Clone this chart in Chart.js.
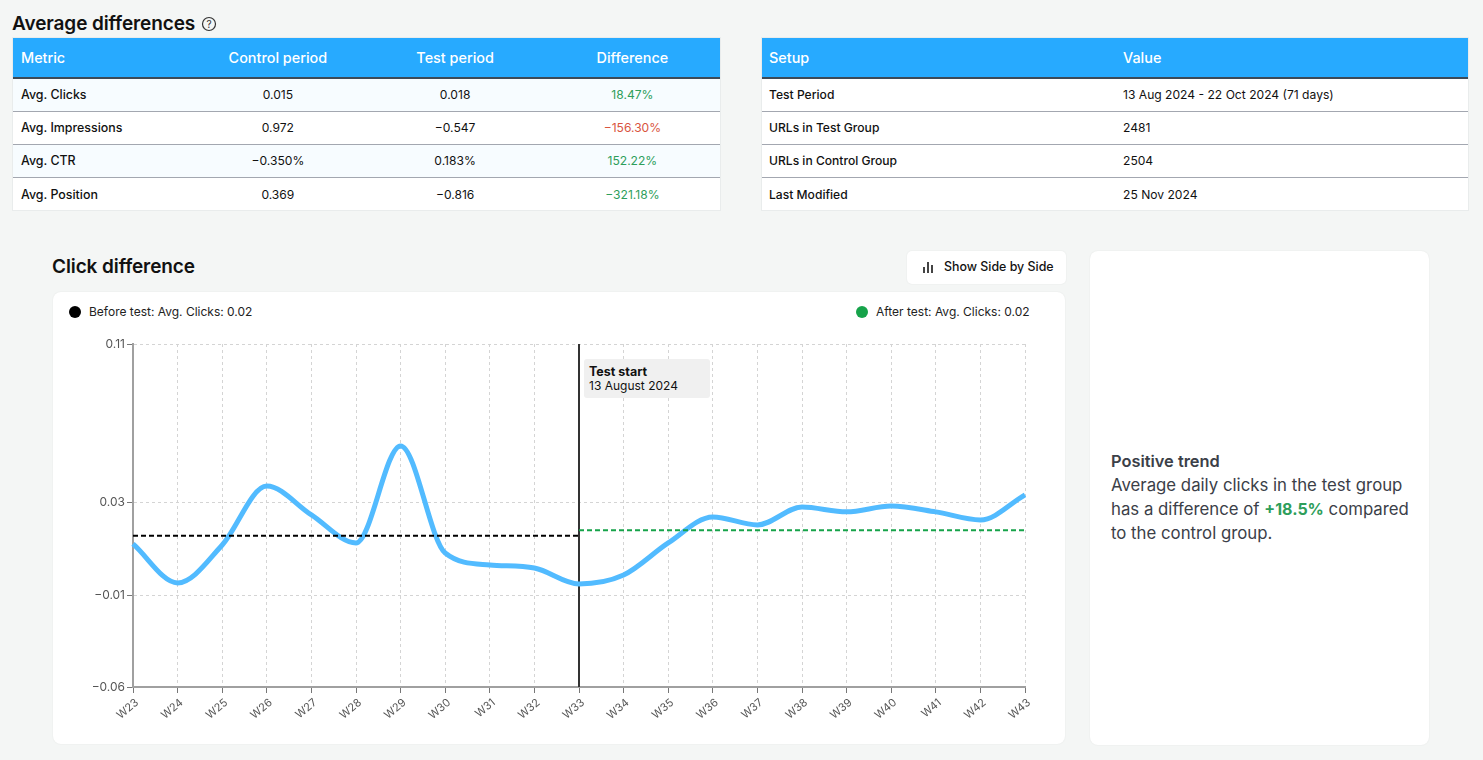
<!DOCTYPE html>
<html>
<head>
<meta charset="utf-8">
<script src="https://cdn.jsdelivr.net/npm/chart.js@4"></script>
<style>
  html, body { margin: 0; padding: 0; background: #f4f6f5; overflow: hidden; }
  body { width: 1483px; height: 760px; position: relative; font-family: Inter, "Noto Sans", sans-serif; color: #111; }
  .abs { position: absolute; white-space: nowrap; }
  .title { font-size: 19px; font-weight: 600; line-height: 24px; letter-spacing: -0.1px; }
  table { position: absolute; top: 37px; border-collapse: collapse; table-layout: fixed; background: #fff; font-size: 12.1px; outline: 1px solid #e9ecec; outline-offset: -1px; }
  th { height: 40px; background: #27aaff; color: #fff; font-size: 14.4px; font-weight: 500; border-bottom: 2px solid #3c4a58; padding: 0; }
  td { height: 31px; padding: 0 0 1px 0; border-bottom: 1px solid #a3a7b0; font-weight: 400; }
  tr:last-child td { border-bottom: none; height: 32px; }
  .m th, .m td { text-align: center; }
  .m th:first-child, .m td:first-child { text-align: left; padding-left: 9px; font-weight: 500; font-size: 12.4px; }
  .m th:first-child { font-size: 14.4px; }
  .m tbody tr:nth-child(odd) td { background: #f7fcff; }
  .s th, .s td { text-align: left; padding-left: 8px; }
  .s td:first-child { font-weight: 500; }
  .up { color: #2e9e5b; }
  .down { color: #d9553f; }
  .card { position: absolute; background: #fff; border-radius: 8px; box-shadow: 0 0 2px rgba(0,0,0,0.07); }
  .dot { position: absolute; width: 12px; height: 12px; border-radius: 50%; }
  .legend { font-size: 12px; line-height: 16px; color: #222; }
  #chartWrap { position: absolute; left: 53px; top: 330px; width: 1012px; height: 410px; }
  #tag { left: 584px; top: 359px; width: 121px; height: 39px; padding-left: 5px; background: #f0f0f0; border-radius: 3px; font-size: 12px; line-height: 14px; }
  #tag b { display: block; margin-top: 6px; font-size: 12.5px; font-weight: 700; }
  #note { left: 1111px; top: 449px; font-size: 16.8px; line-height: 24px; color: #3b4048; }
  #note b { font-size: 16.4px; font-weight: 600; }
  #note .pct { color: #2e9e5b; font-size: 16px; font-weight: 700; }
</style>
</head>
<body>
  <div class="abs title" style="left:12px;top:12px">Average differences</div>
  <svg class="abs" style="left:201px;top:16px" width="16" height="16" viewBox="0 0 16 16">
    <circle cx="8" cy="8" r="6.5" fill="none" stroke="#333" stroke-width="1.2"/>
    <text x="8" y="11.5" font-size="10" text-anchor="middle" fill="#333" font-family="Inter">?</text>
  </svg>
  <table class="m" id="metricTable" style="left:12px;width:709px"></table>
  <table class="s" id="setupTable" style="left:761px;width:708px"></table>

  <div class="abs title" style="left:52px;top:255px">Click difference</div>
  <div class="card" style="left:907px;top:251px;width:159px;height:33px;border-radius:5px"></div>
  <svg class="abs" style="left:921px;top:260px" width="14" height="14" viewBox="0 0 14 14">
    <rect x="2" y="7" width="2" height="6" fill="#444"/><rect x="6" y="2" width="2" height="11" fill="#444"/><rect x="10" y="5" width="2" height="8" fill="#444"/>
  </svg>
  <div class="abs" style="left:944px;top:260px;font-size:12.4px;line-height:14px;font-weight:500">Show Side by Side</div>

  <div class="card" style="left:53px;top:292px;width:1012px;height:452px"></div>
  <div class="dot" style="left:69px;top:306px;background:#000"></div>
  <div class="abs legend" style="left:89px;top:304px">Before test: Avg. Clicks: 0.02</div>
  <div class="dot" style="left:856px;top:306px;background:#16a34a"></div>
  <div class="abs legend" style="left:876px;top:304px">After test: Avg. Clicks: 0.02</div>
  <div id="chartWrap"><canvas id="clickChart"></canvas></div>
  <div class="abs" id="tag"><b>Test start</b>13 August 2024</div>

  <div class="card" style="left:1090px;top:251px;width:339px;height:494px"></div>
  <div class="abs" id="note"><b>Positive trend</b><br>Average daily clicks in the test group<br>has a difference of <span class="pct">+18.5%</span> compared<br>to the control group.</div>

<script>
const weeks = ["W23","W24","W25","W26","W27","W28","W29","W30","W31","W32","W33","W34","W35","W36","W37","W38","W39","W40","W41","W42","W43"];
const clickDiff = [0.0109,-0.0084,0.0104,0.0396,0.0253,0.0114,0.0595,0.0064,0.0005,-0.0010,-0.0089,-0.0045,0.0114,0.0243,0.0203,0.0292,0.0268,0.0297,0.0268,0.0228,0.0352];
const yTicks = [-0.06,-0.0145,0.0315,0.11];
const testWeek = "W33";
const beforeAvg = 0.015;
const afterAvg = 0.0177;

const metricHead = ["Metric","Control period","Test period","Difference"];
const metricRows = [
  ["Avg. Clicks","0.015","0.018","18.47%"],
  ["Avg. Impressions","0.972","−0.547","−156.30%"],
  ["Avg. CTR","−0.350%","0.183%","152.22%"],
  ["Avg. Position","0.369","−0.816","−321.18%"]
];
const metricTone = ["up","down","up","up"];
const setupHead = ["Setup","Value"];
const setupRows = [
  ["Test Period","13 Aug 2024 - 22 Oct 2024 (71 days)"],
  ["URLs in Test Group","2481"],
  ["URLs in Control Group","2504"],
  ["Last Modified","25 Nov 2024"]
];

function fillTable(id, head, rows, tones) {
  let html = "<thead><tr>" + head.map(h => "<th>" + h + "</th>").join("") + "</tr></thead><tbody>";
  rows.forEach((r, i) => {
    html += "<tr>" + r.map((c, j) => {
      const cls = tones && j === r.length - 1 ? ' class="' + tones[i] + '"' : "";
      return "<td" + cls + ">" + c + "</td>";
    }).join("") + "</tr>";
  });
  document.getElementById(id).innerHTML = html + "</tbody>";
}
fillTable("metricTable", metricHead, metricRows, metricTone);
fillTable("setupTable", setupHead, setupRows);

const ctx = document.getElementById("clickChart").getContext("2d");
new Chart(ctx, {
  type: "line",
  data: {
    labels: weeks,
    datasets: [
      {
        // 테스트 시작 세로선
        data: [{x: testWeek, y: yTicks[0]}, {x: testWeek, y: yTicks[yTicks.length - 1]}],
        borderColor: "#333", borderWidth: 2, pointRadius: 0, order: 3
      },
      {
        data: clickDiff,
        borderColor: "#52bbff", borderWidth: 5, pointRadius: 0,
        cubicInterpolationMode: "monotone", borderCapStyle: "butt", order: 2
      },
      {
        data: [{x: weeks[0], y: beforeAvg}, {x: testWeek, y: beforeAvg}],
        borderColor: "#000", borderWidth: 2, borderDash: [5, 3], pointRadius: 0, order: 1
      },
      {
        data: [{x: testWeek, y: afterAvg}, {x: weeks[weeks.length - 1], y: afterAvg}],
        borderColor: "#16a34a", borderWidth: 2, borderDash: [5, 3], pointRadius: 0, order: 1
      }
    ]
  },
  options: {
    responsive: true,
    maintainAspectRatio: false,
    animation: false,
    layout: { padding: { left: 0, right: 40, top: 14, bottom: 0 } },
    plugins: { legend: { display: false }, tooltip: { enabled: false } },
    scales: {
      x: {
        type: "category",
        offset: false,
        afterFit: s => { s.height = 53; },
        grid: { color: "#d4d4d4", lineWidth: 1, tickLength: 6, tickColor: "#777" },
        border: { display: true, color: "#a0a0a0", width: 2, dash: [3, 3] },
        ticks: { autoSkip: false, minRotation: 40, maxRotation: 40, labelOffset: 4, padding: 3, color: "#555", font: { family: "Inter", size: 11 } }
      },
      y: {
        min: yTicks[0],
        max: yTicks[yTicks.length - 1],
        afterFit: s => { s.width = 80; },
        afterBuildTicks: s => { s.ticks = yTicks.map(v => ({ value: v })); },
        grid: { color: "#d4d4d4", lineWidth: 1, tickLength: 6, tickColor: "#777" },
        border: { display: true, color: "#a0a0a0", width: 2, dash: [3, 3] },
        ticks: { padding: 2, color: "#555", font: { family: "Inter", size: 12 },
          callback: v => v.toFixed(2).replace("-", "−") }
      }
    }
  }
});
</script>
</body>
</html>
